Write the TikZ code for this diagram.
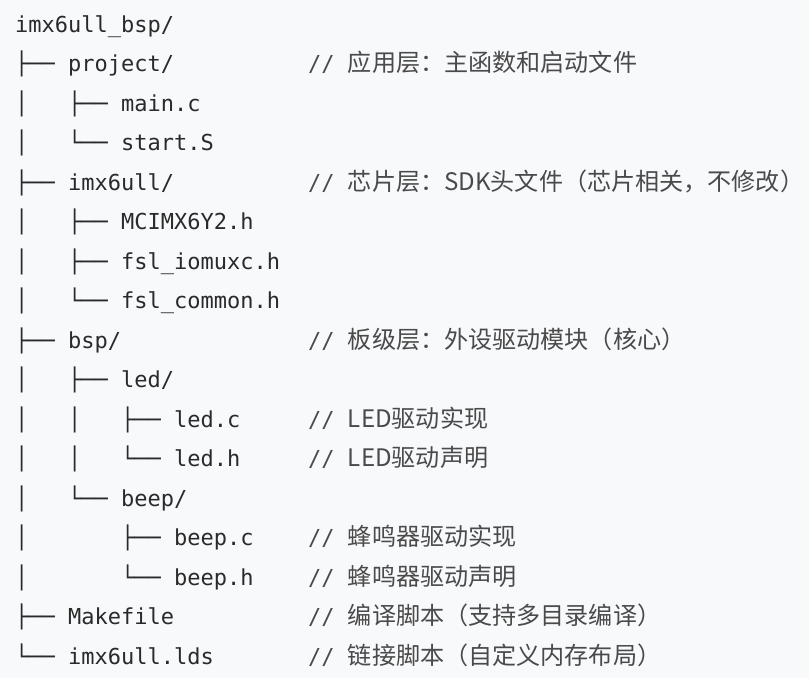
\documentclass[tikz,border=0pt]{standalone}
\usepackage{fontspec}
\setmonofont{DejaVu Sans Mono}
\newfontfamily\cjk{Noto Sans CJK SC}
\usepackage{xcolor}

\definecolor{codebg}{HTML}{F8F9FB}
\definecolor{codefg}{HTML}{2A2A2A}
\definecolor{notefg}{HTML}{4A4A4A}

\tikzset{
  entry/.style={anchor=base west, inner sep=0pt, text=codefg,
    font=\fontsize{22}{26}\selectfont\ttfamily},
  note/.style={anchor=base west, inner sep=0pt, text=notefg,
    font=\fontsize{22}{26}\selectfont\ttfamily},
}
\newcommand{\cn}[1]{{\cjk\fontsize{24.1}{28}\selectfont #1}}

\begin{document}
\begin{tikzpicture}[x=1pt, y=-1pt]
% --- fondo ---
\fill[codebg] (0,0) rectangle (809,678);
\useasboundingbox (0,0) rectangle (809,678);
% --- albero dei file ---
\node[entry] (root)     at (15,32)    {imx6ull\_bsp/};
\node[entry] (project)  at (15,71.5)  {├──~project/};
\node[entry] (mainc)    at (15,111)   {│~~~├──~main.c};
\node[entry] (startS)   at (15,150.5) {│~~~└──~start.S};
\node[entry] (imx)      at (15,190)   {├──~imx6ull/};
\node[entry] (mcimx)    at (15,229.5) {│~~~├──~MCIMX6Y2.h};
\node[entry] (iomuxc)   at (15,269)   {│~~~├──~fsl\_iomuxc.h};
\node[entry] (common)   at (15,308.5) {│~~~└──~fsl\_common.h};
\node[entry] (bsp)      at (15,348)   {├──~bsp/};
\node[entry] (led)      at (15,387.5) {│~~~├──~led/};
\node[entry] (ledc)     at (15,427)   {│~~~│~~~├──~led.c};
\node[entry] (ledh)     at (15,466.5) {│~~~│~~~└──~led.h};
\node[entry] (beep)     at (15,506)   {│~~~└──~beep/};
\node[entry] (beepc)    at (15,545.5) {│~~~~~~~├──~beep.c};
\node[entry] (beeph)    at (15,585)   {│~~~~~~~└──~beep.h};
\node[entry] (makefile) at (15,624.5) {├──~Makefile};
\node[entry] (lds)      at (15,664)   {└──~imx6ull.lds};
% --- commenti (colonna 22) ---
\node[note] (project-note)  at (308,71.5)  {//~\cn{应用层：主函数和启动文件}};
\node[note] (imx-note)      at (308,190)   {//~\cn{芯片层：SDK头文件（芯片相关，不修改）}};
\node[note] (bsp-note)      at (308,348)   {//~\cn{板级层：外设驱动模块（核心）}};
\node[note] (ledc-note)     at (308,427)   {//~\cn{LED驱动实现}};
\node[note] (ledh-note)     at (308,466.5) {//~\cn{LED驱动声明}};
\node[note] (beepc-note)    at (308,545.5) {//~\cn{蜂鸣器驱动实现}};
\node[note] (beeph-note)    at (308,585)   {//~\cn{蜂鸣器驱动声明}};
\node[note] (makefile-note) at (308,624.5) {//~\cn{编译脚本（支持多目录编译）}};
\node[note] (lds-note)      at (308,664)   {//~\cn{链接脚本（自定义内存布局）}};
\end{tikzpicture}
\end{document}
